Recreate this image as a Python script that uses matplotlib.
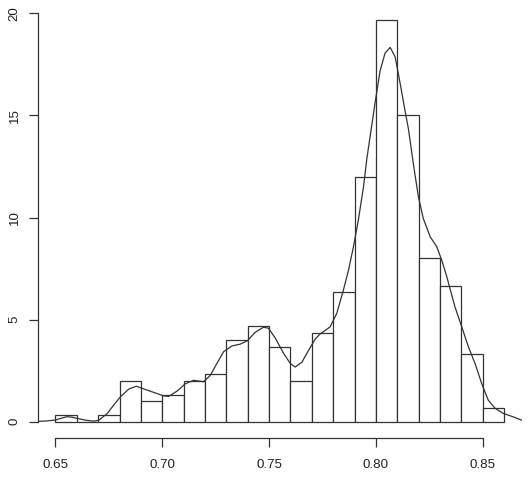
import matplotlib
matplotlib.use("Agg")
import matplotlib.pyplot as plt
import numpy as np

plt.rcParams['font.family'] = ['Liberation Sans', 'DejaVu Sans']

# histogram (density scale), bins of width 0.01
bin_edges = [0.65, 0.66, 0.67, 0.68, 0.69, 0.70, 0.71, 0.72, 0.73, 0.74, 0.75,
             0.76, 0.77, 0.78, 0.79, 0.80, 0.81, 0.82, 0.83, 0.84, 0.85, 0.86]
bin_density = [0.33, 0.0, 0.33, 2.0, 1.0, 1.33, 2.0, 2.33, 4.0, 4.67,
               3.67, 2.0, 4.33, 6.33, 12.0, 19.67, 15.0, 8.0, 6.67, 3.33, 0.67]

# density curve
kde_x = [0.6422, 0.6460, 0.6500, 0.6530, 0.6555, 0.6580, 0.6600, 0.6640, 0.6680,
         0.6702, 0.6742, 0.6773, 0.6804, 0.6843, 0.6879, 0.6921, 0.6976, 0.7006,
         0.7030, 0.7069, 0.7108, 0.7147, 0.7193, 0.7225, 0.7256, 0.7287, 0.7326,
         0.7365, 0.7399, 0.7435, 0.7474, 0.7497, 0.7529, 0.7568, 0.7599, 0.7622,
         0.7654, 0.7685, 0.7716, 0.7739, 0.7760, 0.7786, 0.7817, 0.7848, 0.7872,
         0.7895, 0.7918, 0.7942, 0.7958, 0.7996, 0.8020, 0.8043, 0.8067, 0.8090,
         0.8113, 0.8137, 0.8153, 0.8175, 0.8199, 0.8222, 0.8254, 0.8285, 0.8308,
         0.8332, 0.8370, 0.8402, 0.8433, 0.8464, 0.8495, 0.8526, 0.8558, 0.8596,
         0.8643, 0.8682]
kde_y = [0.02, 0.04, 0.09, 0.18, 0.25, 0.22, 0.17, 0.08, 0.03,
         0.07, 0.40, 0.82, 1.22, 1.60, 1.74, 1.58, 1.38, 1.27,
         1.24, 1.50, 1.86, 2.03, 1.96, 2.27, 2.86, 3.43, 3.71,
         3.80, 3.97, 4.38, 4.63, 4.58, 4.10, 3.35, 2.86, 2.68,
         2.92, 3.50, 4.05, 4.30, 4.45, 4.65, 5.31, 6.45, 7.43,
         8.57, 9.88, 11.5, 12.9, 15.6, 17.2, 18.05, 18.33, 17.87,
         16.6, 15.2, 14.3, 12.65, 11.02, 9.95, 9.06, 8.57, 7.92,
         7.10, 5.63, 4.65, 3.67, 2.86, 1.88, 1.06, 0.66, 0.41,
         0.24, 0.08]

x_ticks = [0.65, 0.70, 0.75, 0.80, 0.85]
y_ticks = [0, 5, 10, 15, 20]

line_col = '#333333'
text_col = '#222222'

fig = plt.figure(figsize=(5.32, 4.8), dpi=100)
ax = fig.add_axes([37.5 / 532, (480 - 437.7) / 480, (522 - 37.5) / 532, 437.7 / 480])

lefts = bin_edges[:-1]
widths = np.diff(bin_edges)
ax.bar(lefts, bin_density, width=widths, align='edge', facecolor='white',
       edgecolor=line_col, linewidth=0.9)
ax.plot(kde_x, kde_y, color=line_col, linewidth=0.9)

ax.set_xlim(0.6416, 0.8684)
ax.set_ylim(-0.78, 20.65)

for side in ['top', 'right']:
    ax.spines[side].set_visible(False)
ax.spines['left'].set_bounds(0, 20)
ax.spines['bottom'].set_bounds(0.65, 0.85)
for side in ['left', 'bottom']:
    ax.spines[side].set_color(line_col)
    ax.spines[side].set_linewidth(0.9)

ax.set_xticks(x_ticks)
ax.set_xticklabels(['%.2f' % v for v in x_ticks])
ax.set_yticks(y_ticks)
ax.set_yticklabels([str(v) for v in y_ticks], rotation=90, va='center')
ax.tick_params(axis='both', length=6.2, width=0.9, color=line_col,
               labelsize=9.6, labelcolor=text_col)
ax.tick_params(axis='x', pad=9)
ax.tick_params(axis='y', pad=6)

fig.savefig('out.png', dpi=100)
